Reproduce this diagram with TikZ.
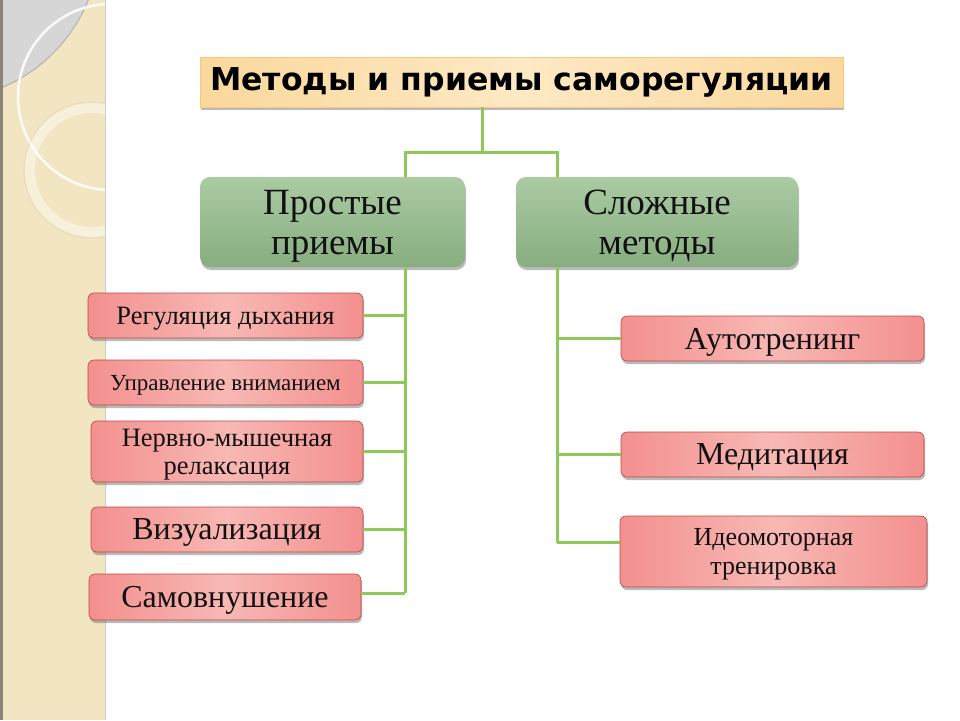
\documentclass[tikz,border=0pt]{standalone}
\usepackage{fontspec}
\setmainfont{Liberation Serif}
\newfontfamily\titlefont{DejaVu Sans}
\usepackage{xcolor}
\definecolor{strip}{HTML}{F2E6C2}
\definecolor{stripedge}{HTML}{8A8476}
\definecolor{branch}{HTML}{8DC859}
\definecolor{rose}{HTML}{F3908E}
\definecolor{roselight}{HTML}{F8B8B4}
\definecolor{roseedge}{HTML}{B84A48}
\definecolor{sage}{HTML}{ABCBA3}
\definecolor{sagedark}{HTML}{87AD80}
\definecolor{sand}{HTML}{FBD89C}
\definecolor{sandlight}{HTML}{FDE9C4}
\definecolor{ink}{HTML}{111111}
\usetikzlibrary{positioning,shadows,calc}

\begin{document}
\begin{tikzpicture}[x=1pt,y=-1pt,
  link/.style={branch,line width=3pt},
  shade/.style={drop shadow={shadow xshift=1pt,shadow yshift=-3pt,opacity=.45,fill=black!60}},
  item/.style={shade,draw=roseedge,line width=.6pt,rounded corners=6pt,
     left color=rose,right color=rose,middle color=roselight,text depth=0pt,
     text=ink,align=center,inner sep=0pt,font=\fontsize{26.5}{28}\selectfont},
  group/.style={shade,rounded corners=10pt,top color=sage,bottom color=sagedark,
     minimum width=#1,minimum height=90pt,inner sep=0pt,align=center,text=ink,
     text depth=0pt,font=\fontsize{37}{40}\selectfont}]
  \useasboundingbox (0,0) rectangle (960,720);
  % bande decorative a gauche
  \begin{scope}
    \clip (0,0) rectangle (105,720);
    \fill[strip] (0,0) rectangle (105,720);
    \fill[black!16] (-60,-60) circle (160);
    \draw[black!30,line width=1pt] (-60,-60) circle (160);
    \draw[white,line width=2.5pt,opacity=.9] (111,97) circle (93);
    \draw[white,line width=10pt,opacity=.4] (92,170) circle (62);
    \draw[brown!40,line width=1pt,opacity=.5] (92,170) circle (68);
  \end{scope}
  \draw[stripedge,line width=3pt] (1.5,0) -- (1.5,720);
  \draw[black!20,line width=1pt] (105.5,0) -- (105.5,720);
  % titre et groupes
  \node[shade,draw=sand!80!orange,line width=.6pt,left color=sand,right color=sand,middle color=sandlight,
    minimum width=643pt,minimum height=50pt,inner sep=0pt,text=black,
    font=\titlefont\bfseries\fontsize{31.5}{34}\selectfont] (title) at (521.5,82) {Методы и приемы саморегуляции};
  \node[group=265pt] (simple) at (332.5,222) {Простые\\приемы};
  \node[group=282pt] (complex) at (657,222) {Сложные\\методы};
  % простые приемы
  \node[item,minimum width=275pt,minimum height=45pt] (breath) at (225.5,315.5) {Регуляция дыхания};
  \node[item,minimum width=275pt,minimum height=45pt,font=\fontsize{23}{26}\selectfont] (focus) at (225.5,382.5) {Управление вниманием};
  \node[item,minimum width=272pt,minimum height=61pt] (relax) at (227,451.5) {Нервно-мышечная\\релаксация};
  \node[item,minimum width=272pt,minimum height=45pt,font=\fontsize{32}{34}\selectfont] (visual) at (227,529.5) {Визуализация};
  \node[item,minimum width=272pt,minimum height=46pt,font=\fontsize{32}{34}\selectfont] (suggest) at (225,597) {Самовнушение};
  % сложные методы
  \node[item,minimum width=303pt,minimum height=45pt,font=\fontsize{32}{34}\selectfont] (auto) at (772.5,338.5) {Аутотренинг};
  \node[item,minimum width=303pt,minimum height=45pt,font=\fontsize{32}{34}\selectfont] (medit) at (772.5,454.5) {Медитация};
  \node[item,minimum width=307pt,minimum height=71pt,font=\fontsize{26}{29}\selectfont] (ideo) at (773.5,551.5) {Идеомоторная\\тренировка};
  % liaisons
  \coordinate (lx) at (405,0);
  \coordinate (rx) at (557,0);
  \draw[link] ([xshift=-39pt]title.south) -- ++(0,45) coordinate (fork);
  \draw[link] (simple.north -| lx) |- (fork) -| (complex.north -| rx);
  \draw[link] (simple.south -| lx) -- ([yshift=4pt]suggest.east -| lx);
  \foreach \b in {breath,focus,relax,visual}
    \draw[link] (\b.east) -- (\b.east -| lx);
  \draw[link] ([yshift=4pt]suggest.east) -- ([yshift=4pt]suggest.east -| lx);
  \draw[link] (complex.south -| rx) -- ([yshift=9pt]ideo.west -| rx);
  \foreach \b in {auto,medit}
    \draw[link] (\b.west) -- (\b.west -| rx);
  \draw[link] ([yshift=9pt]ideo.west) -- ([yshift=9pt]ideo.west -| rx);
\end{tikzpicture}
\end{document}
